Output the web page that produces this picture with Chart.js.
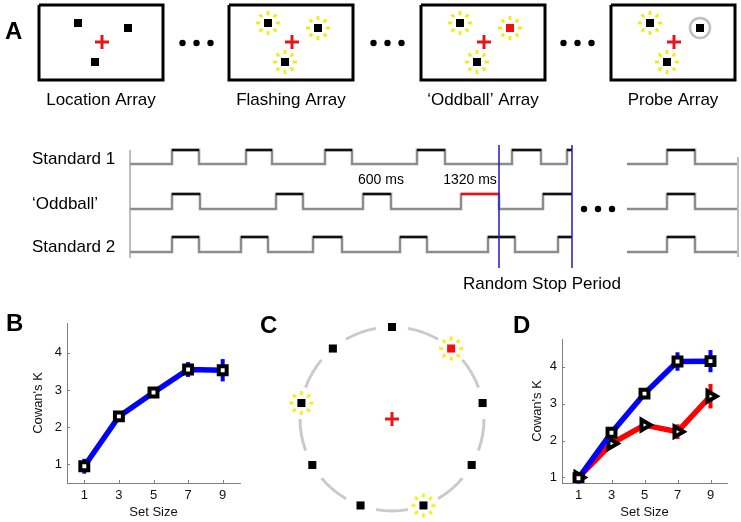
<!DOCTYPE html>
<html>
<head>
<meta charset="utf-8">
<title>Cowan's K by set size</title>
<script src="https://cdn.jsdelivr.net/npm/chart.js@4.4.1/dist/chart.umd.min.js"></script>
<style>
  body { margin: 0; background: #fff; }
  #page { position: relative; width: 741px; height: 522px; }
  #page canvas { position: absolute; }
</style>
</head>
<body>
<div id="page">
  <canvas id="scheme" width="741" height="522" style="left:0;top:0"></canvas>
  <canvas id="chartB" width="250" height="222" style="left:0;top:300px"></canvas>
  <canvas id="chartD" width="251" height="222" style="left:490px;top:300px"></canvas>
</div>
<script>
Chart.defaults.font.family = '"Liberation Sans", Arial, Helvetica, sans-serif';
Chart.defaults.color = '#111';
Chart.defaults.animation = false;

// B: capacity by set size
let setSizes = [1, 3, 5, 7, 9];
let kTicks = [1, 2, 3, 4];
let kB = [0.95, 2.29, 2.93, 3.55, 3.53];
let kBErr = [0.2, 0.12, 0.07, 0.2, 0.3];
// D: two conditions
let kBlue = [0.98, 2.21, 3.27, 4.14, 4.15];
let kBlueErr = [0.15, 0.12, 0.08, 0.25, 0.3];
let kRed = [1.0, 1.92, 2.42, 2.24, 3.2];
let kRedErr = [0.12, 0.12, 0.1, 0.2, 0.33];

// A: the four displays and what sits in them
let arrayNames = ['Location Array', 'Flashing Array', '\u2018Oddball\u2019 Array', 'Probe Array'];
let arrayItems = [
  ['plain', 'plain', 'plain'],
  ['flash', 'flash', 'flash'],
  ['flash', 'odd', 'flash'],
  ['flash', 'probe', 'flash']
];
// A: flashing timelines, [on, off] of each flash
let waveNames = ['Standard 1', '\u2018Oddball\u2019', 'Standard 2'];
let waveOn = [
  [[172, 199], [246, 272], [325, 352], [417, 445], [512, 541], [567, 572]],
  [[172, 200], [276, 303], [363, 391], [461, 499], [543, 572]],
  [[172, 199], [241, 268], [313, 342], [400, 427], [488, 515], [558, 572]]
];
let oddRedFlash = 3;
let stopLines = [499, 572];

// C: set size 9 ring
let ringAngles = [90, 130, 170, 210, 250, 290, 330, 10, 50];
let ringItems = ['plain', 'plain', 'flash', 'plain', 'plain', 'flash', 'plain', 'plain', 'odd'];

// layout of the schematic (page px)
const BOX_TOP = 5, BOX_H = 75, BOX_W = 124;
const boxLefts = [39, 229, 421, 611];
const itemOff = [[39, 18], [89, 23], [56, 57]];
const crossOff = [63, 37];
const waveStart = 130, waveEnd = 572;
const waveLow = [164, 209, 252], waveHigh = [150, 194, 237];
const tail = [627, 667, 695, 737];
const ringC = [392, 419], ringR = 92;
const FONT = '"Liberation Sans", Arial, Helvetica, sans-serif';

let blackSq = [], redSq = [], halos = [], probes = [], crosses = [];
function place(kind, x, y) {
  if (kind === 'odd') redSq.push({x, y}); else blackSq.push({x, y});
  if (kind === 'flash' || kind === 'odd') halos.push({x, y});
  if (kind === 'probe') probes.push({x, y});
}
arrayItems.forEach((items, b) => {
  items.forEach((kind, i) => place(kind, boxLefts[b] + itemOff[i][0], BOX_TOP + itemOff[i][1]));
  crosses.push({x: boxLefts[b] + crossOff[0], y: BOX_TOP + crossOff[1]});
});
ringAngles.forEach((a, i) => {
  let r = a * Math.PI / 180;
  place(ringItems[i], ringC[0] + ringR * Math.cos(r), ringC[1] - ringR * Math.sin(r));
});
crosses.push({x: ringC[0], y: ringC[1]});

let grayWave = [], blackTops = [], redTops = [];
waveOn.forEach((pairs, r) => {
  let lo = waveLow[r], hi = waveHigh[r];
  grayWave.push({x: waveStart, y: lo});
  pairs.forEach(([on, off], k) => {
    grayWave.push({x: on, y: lo}, {x: on, y: hi}, {x: off, y: hi});
    if (off < waveEnd) grayWave.push({x: off, y: lo});
    let tops = (r === 1 && k === oddRedFlash) ? redTops : blackTops;
    tops.push({x: on, y: hi}, {x: off, y: hi}, {x: off, y: null});
  });
  if (pairs[pairs.length - 1][1] < waveEnd) grayWave.push({x: waveEnd, y: lo});
  grayWave.push({x: waveEnd, y: null});
  grayWave.push({x: tail[0], y: lo}, {x: tail[1], y: lo}, {x: tail[1], y: hi}, {x: tail[2], y: hi},
                {x: tail[2], y: lo}, {x: tail[3], y: lo}, {x: tail[3], y: null});
  blackTops.push({x: tail[1], y: hi}, {x: tail[2], y: hi}, {x: tail[2], y: null});
});

let dots = [];
[196.5, 387.5, 577.5].forEach(c => dots.push({x: c - 14, y: 43}, {x: c, y: 43}, {x: c + 14, y: 43}));
[584, 598, 612].forEach(x => dots.push({x, y: 209}));

// yellow flashing halo used as a point style
function makeHalo() {
  let c = document.createElement('canvas');
  c.width = 28; c.height = 28;
  let g = c.getContext('2d');
  g.fillStyle = '#f4ec10';
  for (let k = 0; k < 8; k++) {
    let a = k * Math.PI / 4;
    g.save();
    g.translate(14 + 10 * Math.cos(a), 14 + 10 * Math.sin(a));
    g.rotate(a);
    g.fillRect(-2, -1.4, 4, 2.8);
    g.restore();
  }
  return c;
}

function lineSet(pts, color, width, order) {
  return {data: pts, showLine: true, borderColor: color, borderWidth: width, pointRadius: 0,
          borderJoinStyle: 'miter', spanGaps: false, order};
}
function pointSet(pts, style, radius, fill, stroke, bw, order) {
  return {data: pts, pointStyle: style, pointRadius: radius, pointBackgroundColor: fill,
          pointBorderColor: stroke, pointBorderWidth: bw, order};
}

let schemeSets = [
  pointSet(crosses, 'cross', 7, '#e8141c', '#e8141c', 3, 0),
  pointSet(blackSq, 'rect', 5.7, '#000', '#000', 0, 1),
  pointSet(redSq, 'rect', 5.7, '#ee1111', '#ee1111', 0, 1),
  pointSet(probes, 'circle', 10, 'rgba(0,0,0,0)', '#c0c0c0', 2.5, 2),
  pointSet(halos, makeHalo(), 10, '#ff0', '#ff0', 0, 3),
  pointSet(dots, 'circle', 3.2, '#000', '#000', 0, 3),
  lineSet([{x: stopLines[0], y: 145}, {x: stopLines[0], y: 268}, {x: stopLines[0], y: null},
           {x: stopLines[1], y: 145}, {x: stopLines[1], y: 268}], '#1c1cc8', 1.5, 3),
  lineSet(redTops, '#ee1111', 2.5, 4),
  lineSet(blackTops, '#111', 2.5, 4),
  lineSet(grayWave, '#8c8c8c', 2.5, 5),
  lineSet([{x: 130, y: 150}, {x: 130, y: 258}, {x: 130, y: null}, {x: 738, y: 157}, {x: 738, y: 257}], '#b4b4b4', 1, 6)
];
boxLefts.forEach(l => {
  schemeSets.push(lineSet([{x: l, y: BOX_TOP}, {x: l + BOX_W, y: BOX_TOP}, {x: l + BOX_W, y: BOX_TOP + BOX_H},
                           {x: l, y: BOX_TOP + BOX_H}, {x: l, y: BOX_TOP}], '#000', 3, 6));
});

let texts = [
  {t: 'A', x: 5, y: 32, size: 24, bold: true},
  {t: 'B', x: 6, y: 324, size: 24, bold: true},
  {t: 'C', x: 260, y: 326, size: 24, bold: true},
  {t: 'D', x: 513, y: 326, size: 24, bold: true},
  {t: '600 ms', x: 381, y: 180, size: 14, align: 'center'},
  {t: '1320 ms', x: 470, y: 180, size: 14, align: 'center'},
  {t: 'Random Stop Period', x: 542, y: 284, size: 17, align: 'center'}
];
arrayNames.forEach((n, b) => texts.push({t: n, x: boxLefts[b] + BOX_W / 2, y: 100, size: 17, align: 'center'}));
waveNames.forEach((n, r) => texts.push({t: n, x: 32, y: waveLow[r] - 5, size: 17}));

const schemeExtras = {
  id: 'schemeExtras',
  beforeDatasetsDraw(chart) {
    const {ctx, scales: {x, y}} = chart;
    const cx = x.getPixelForValue(ringC[0]), cy = y.getPixelForValue(ringC[1]);
    ctx.save();
    ctx.strokeStyle = '#cacaca';
    ctx.lineWidth = 3;
    ringAngles.forEach(a => {
      ctx.beginPath();
      ctx.arc(cx, cy, ringR, -(a + 30) * Math.PI / 180, -(a + 10) * Math.PI / 180);
      ctx.stroke();
    });
    ctx.restore();
  },
  afterDraw(chart) {
    const {ctx, scales: {x, y}} = chart;
    ctx.save();
    ctx.fillStyle = '#000';
    ctx.textBaseline = 'middle';
    texts.forEach(s => {
      ctx.font = (s.bold ? 'bold ' : '') + s.size + 'px ' + FONT;
      ctx.textAlign = s.align || 'left';
      ctx.fillText(s.t, x.getPixelForValue(s.x), y.getPixelForValue(s.y));
    });
    ctx.restore();
  }
};

new Chart(document.getElementById('scheme'), {
  type: 'scatter',
  data: {datasets: schemeSets},
  options: {
    responsive: false,
    events: [],
    layout: {padding: 0, autoPadding: false},
    plugins: {legend: {display: false}, tooltip: {enabled: false}},
    scales: {
      x: {type: 'linear', min: 0, max: 741, display: false},
      y: {type: 'linear', min: 0, max: 522, reverse: true, display: false}
    }
  },
  plugins: [schemeExtras]
});

const errorBars = {
  id: 'errorBars',
  beforeDatasetsDraw(chart) {
    const {ctx, chartArea: area, scales: {x, y}} = chart;
    ctx.save();
    chart.data.datasets.forEach(ds => {
      if (!ds.errors) return;
      ctx.strokeStyle = ds.borderColor;
      ctx.lineWidth = 4;
      ds.data.forEach((p, j) => {
        const px = x.getPixelForValue(p.x);
        ctx.beginPath();
        ctx.moveTo(px, y.getPixelForValue(p.y - ds.errors[j]));
        ctx.lineTo(px, y.getPixelForValue(p.y + ds.errors[j]));
        ctx.stroke();
      });
    });
    // short inward ticks
    ctx.strokeStyle = '#808080';
    ctx.lineWidth = 1;
    x.ticks.forEach(t => {
      const px = Math.round(x.getPixelForValue(t.value)) + 0.5;
      ctx.beginPath(); ctx.moveTo(px, area.bottom); ctx.lineTo(px, area.bottom - 3); ctx.stroke();
    });
    y.ticks.forEach(t => {
      const py = Math.round(y.getPixelForValue(t.value)) + 0.5;
      ctx.beginPath(); ctx.moveTo(area.left, py); ctx.lineTo(area.left + 3, py); ctx.stroke();
    });
    ctx.restore();
  }
};

function kSeries(values, errs, color, style) {
  return {
    data: setSizes.map((s, i) => ({x: s, y: values[i]})),
    errors: errs,
    showLine: true,
    borderColor: color,
    borderWidth: 5.5,
    pointStyle: style,
    pointRotation: style === 'triangle' ? 90 : 0,
    pointRadius: style === 'triangle' ? 6 : 5.6,
    pointBackgroundColor: '#fff',
    pointBorderColor: '#000',
    pointBorderWidth: 4
  };
}

function kChart(id, datasets, yMin, yMax, pad, yWidth) {
  return new Chart(document.getElementById(id), {
    type: 'scatter',
    data: {datasets},
    options: {
      responsive: false,
      events: [],
      layout: {padding: pad, autoPadding: false},
      plugins: {legend: {display: false}, tooltip: {enabled: false}},
      scales: {
        x: {
          type: 'linear', min: 0, max: 10,
          afterBuildTicks: s => { s.ticks = setSizes.map(v => ({value: v})); },
          afterFit: s => { s.height = 39; },
          grid: {display: false, drawTicks: false},
          border: {display: true, color: '#808080', width: 1},
          ticks: {padding: 5, font: {size: 13}, color: '#111'},
          title: {display: true, text: 'Set Size', font: {size: 13}, color: '#111', padding: {top: 0, bottom: 2}}
        },
        y: {
          type: 'linear', min: yMin, max: yMax,
          afterBuildTicks: s => { s.ticks = kTicks.map(v => ({value: v})); },
          afterFit: s => { s.width = yWidth; },
          grid: {display: false, drawTicks: false},
          border: {display: true, color: '#808080', width: 1},
          ticks: {padding: 5, font: {size: 13}, color: '#111'},
          title: {display: true, text: "Cowan's K", font: {size: 13}, color: '#111', padding: {top: 8, bottom: 0}}
        }
      }
    },
    plugins: [errorBars]
  });
}

kChart('chartB', [kSeries(kB, kBErr, '#0000ff', 'rect')], 0.5, 4.8,
       {left: 23, top: 23, right: 10, bottom: 0}, 44);
kChart('chartD', [kSeries(kBlue, kBlueErr, '#0000ff', 'rect'), kSeries(kRed, kRedErr, '#ff0000', 'triangle')],
       0.85, 4.75, {left: 32, top: 39, right: 14, bottom: 0}, 40);
</script>
</body>
</html>
